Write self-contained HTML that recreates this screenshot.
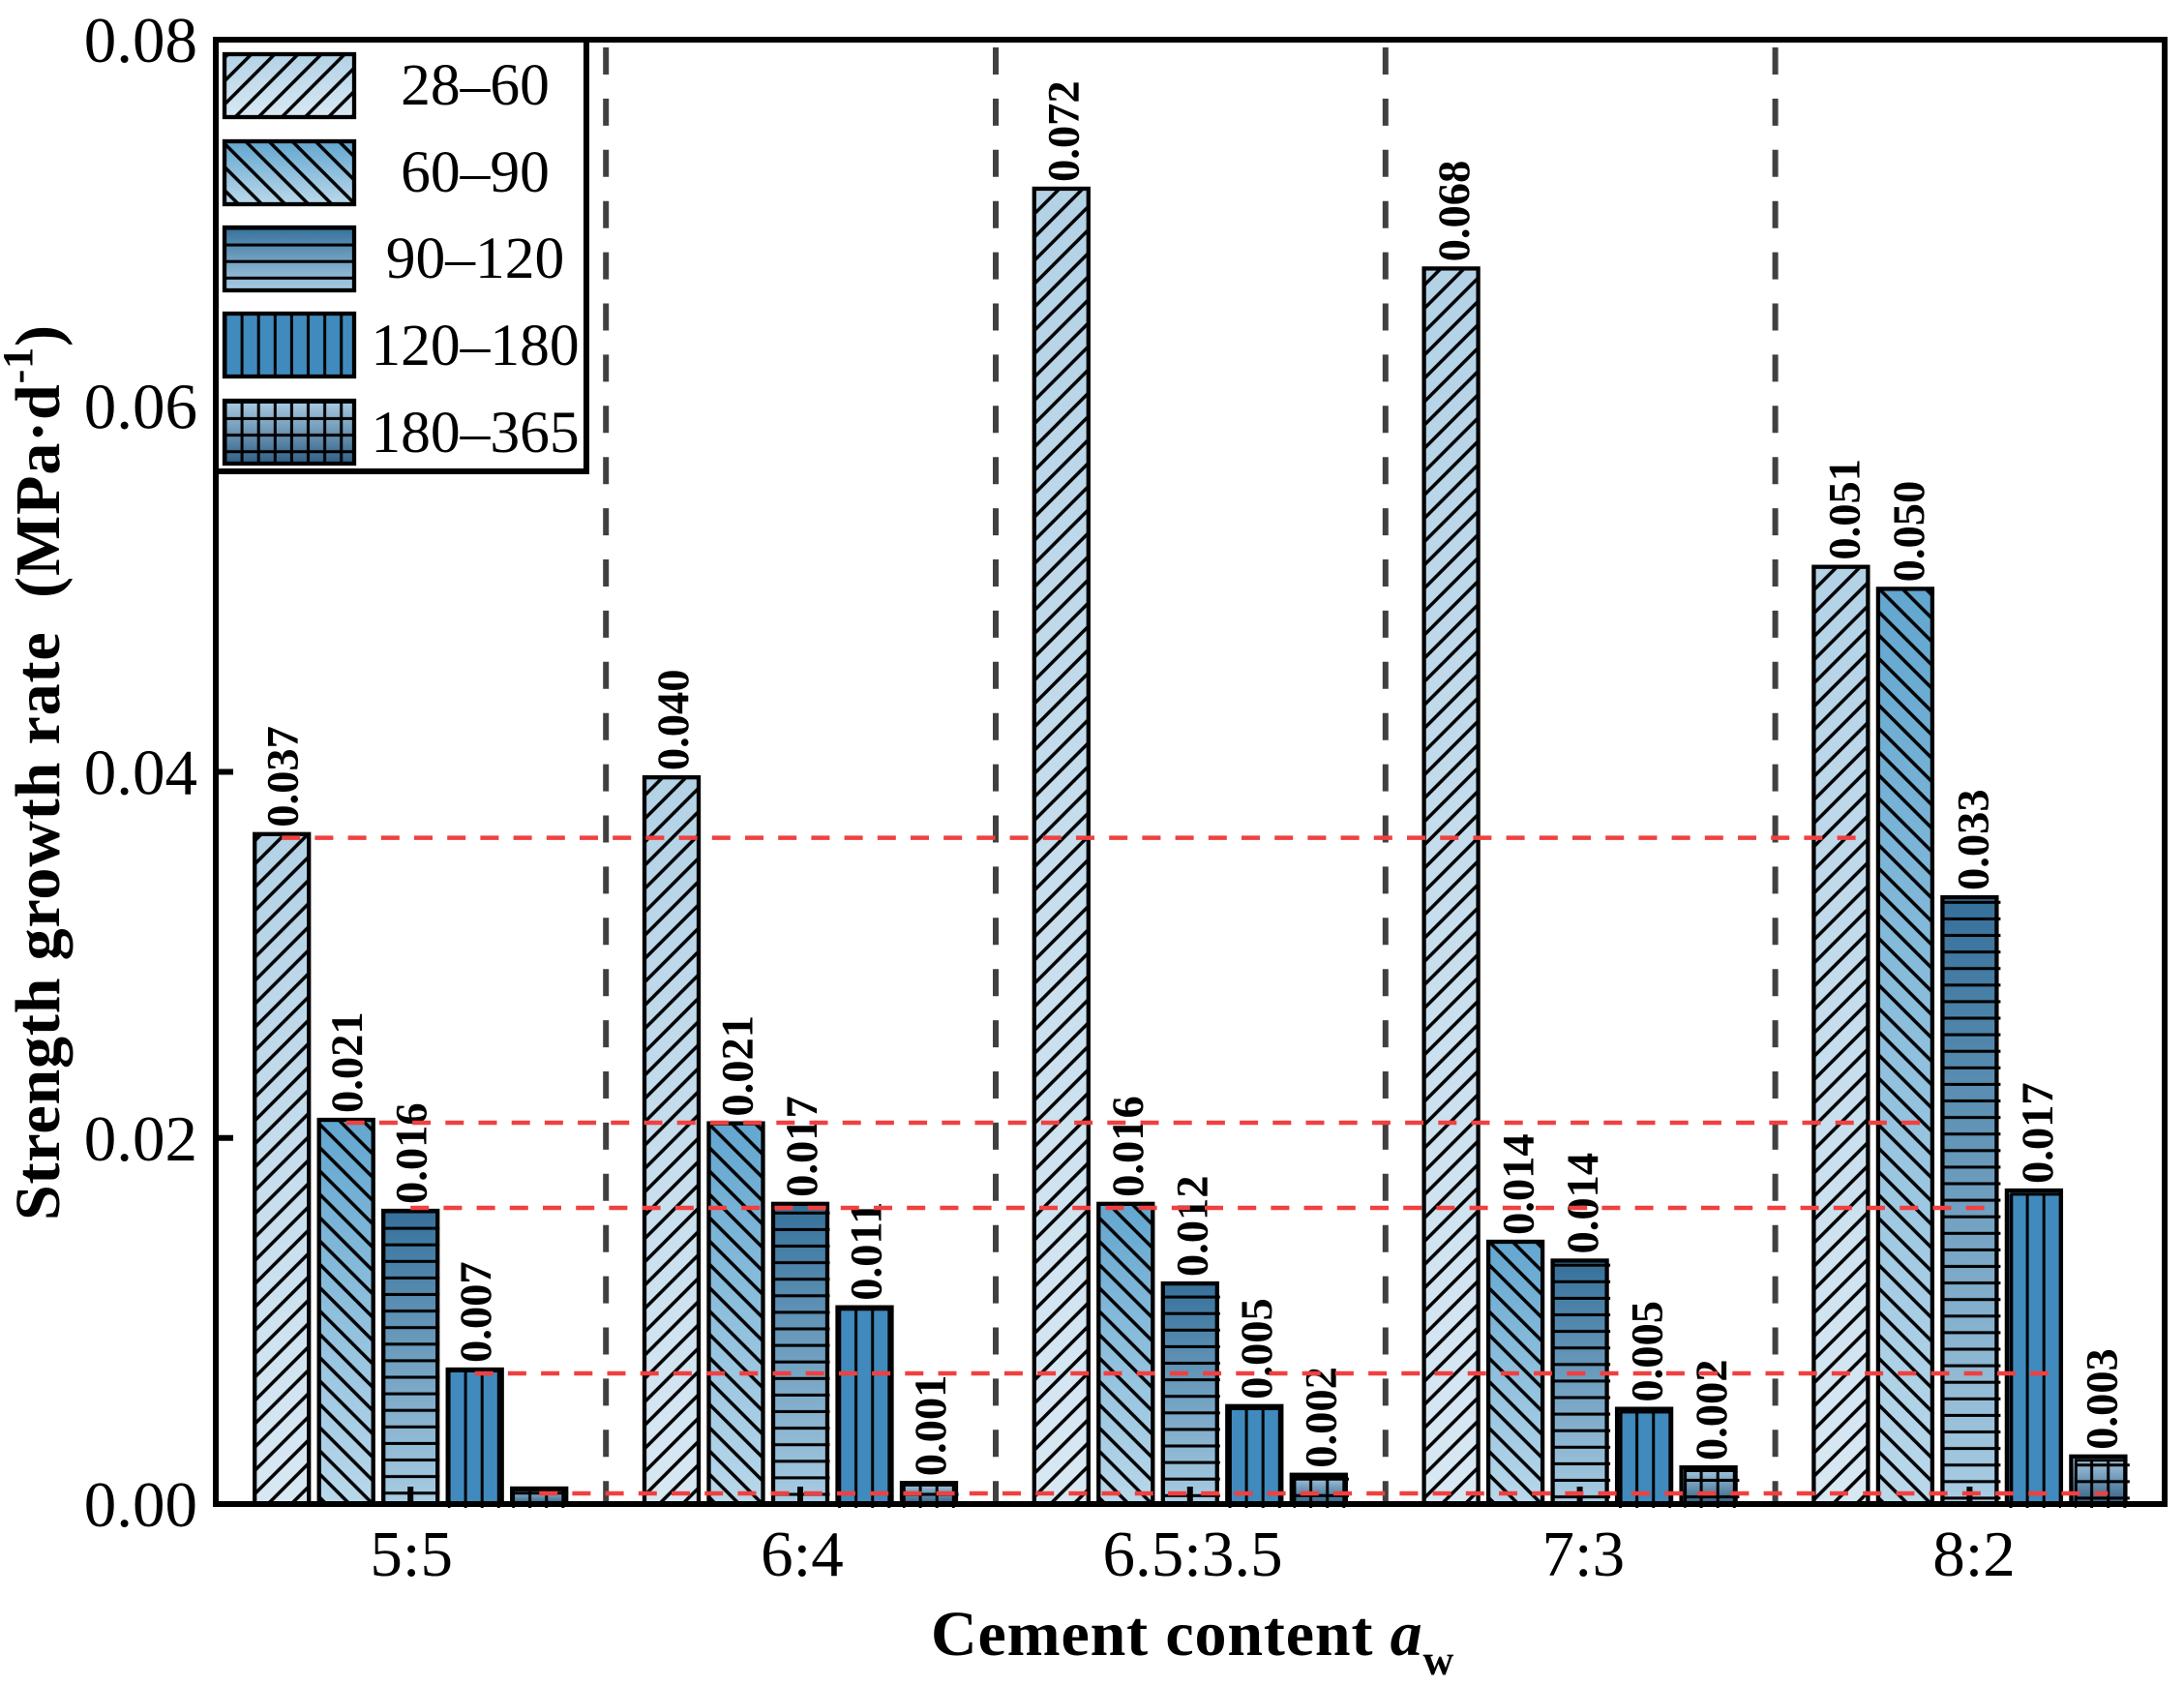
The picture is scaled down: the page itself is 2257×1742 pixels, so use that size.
<!DOCTYPE html>
<html lang="en">
<head>
<meta charset="utf-8">
<title>Strength growth rate chart</title>
<style>
html,body{margin:0;padding:0;background:#fff;}
svg{display:block;font-family:"Liberation Serif",serif;}
</style>
</head>
<body>
<svg id="chart" xmlns="http://www.w3.org/2000/svg" width="2257" height="1742" viewBox="0 0 2257 1742">
  <defs>
    <linearGradient id="grad-0" x1="0" y1="0" x2="0" y2="1"><stop offset="0" stop-color="#b3d2e6"/><stop offset="1" stop-color="#d8e8f3"/></linearGradient>
    <linearGradient id="grad-1" x1="0" y1="0" x2="0" y2="1"><stop offset="0" stop-color="#62a6cf"/><stop offset="1" stop-color="#bad8ea"/></linearGradient>
    <linearGradient id="grad-2" x1="0" y1="0" x2="0" y2="1"><stop offset="0" stop-color="#35709a"/><stop offset="1" stop-color="#a9cde4"/></linearGradient>
    <linearGradient id="grad-3" x1="0" y1="0" x2="0" y2="1"><stop offset="0" stop-color="#408abd"/><stop offset="1" stop-color="#408abd"/></linearGradient>
    <linearGradient id="grad-4" x1="0" y1="0" x2="0" y2="1"><stop offset="0" stop-color="#abcde4"/><stop offset="1" stop-color="#2e5f84"/></linearGradient>
    <pattern id="hatch-0" patternUnits="userSpaceOnUse" width="24.1" height="24.1" patternTransform="translate(15.7,0)">
      <path d="M-6,6 L6,-6 M-6,30.1 L30.1,-6 M18.1,30.1 L30.1,18.1" stroke="#000" stroke-width="3.5" fill="none"/>
    </pattern>
    <pattern id="hatch-1" patternUnits="userSpaceOnUse" width="24.1" height="24.1" patternTransform="translate(9.5,0)">
      <path d="M-6,-6 L30.1,30.1 M18.1,-6 L30.1,6 M-6,18.1 L6,30.1" stroke="#000" stroke-width="3.5" fill="none"/>
    </pattern>
    <pattern id="hatch-2" patternUnits="userSpaceOnUse" width="17.1" height="17.1">
      <path d="M0,5.8 H17.1" stroke="#000" stroke-width="3" fill="none"/>
    </pattern>
    <pattern id="hatch-3" patternUnits="userSpaceOnUse" width="17.1" height="17.1">
      <path d="M3.3,0 V17.1" stroke="#000" stroke-width="3" fill="none"/>
    </pattern>
    <pattern id="hatch-4" patternUnits="userSpaceOnUse" width="17.1" height="17.1">
      <path d="M0,5.8 H17.1 M3.3,0 V17.1" stroke="#000" stroke-width="3" fill="none"/>
    </pattern>
  </defs>
  <rect x="0" y="0" width="2257" height="1742" fill="#fff"/>
  <g id="bars"></g>
  <g id="separators"></g>
  <g id="axes"></g>
  <g id="reference-lines"></g>
  <g id="legend"></g>
  <text x="962" y="1710" font-size="66" font-weight="bold" letter-spacing="0.85">Cement content <tspan font-style="italic">a</tspan><tspan font-size="44" dy="20">w</tspan></text>
  <text transform="translate(61,1261) rotate(-90)" font-size="66" font-weight="bold" letter-spacing="0.85" xml:space="preserve">Strength growth rate  (MPa·d<tspan font-size="44" dy="-28">-1</tspan><tspan dy="28">)</tspan></text>
</svg>
<script>
const categories = ['5:5', '6:4', '6.5:3.5', '7:3', '8:2'];
const seriesNames = ['28–60', '60–90', '90–120', '120–180', '180–365'];
const rate28to60 = [0.0366, 0.0397, 0.07186, 0.0675, 0.0512];
const rate60to90 = [0.02099, 0.0208, 0.0164, 0.01433, 0.0500];
const rate90to120 = [0.01602, 0.0164, 0.01205, 0.0133, 0.03315];
const rate120to180 = [0.00735, 0.01075, 0.00535, 0.0052, 0.01713];
const rate180to365 = [0.00085, 0.00115, 0.0016, 0.002, 0.0026];
const printed28to60 = ['0.037', '0.040', '0.072', '0.068', '0.051'];
const printed60to90 = ['0.021', '0.021', '0.016', '0.014', '0.050'];
const printed90to120 = ['0.016', '0.017', '0.012', '0.014', '0.033'];
const printed120to180 = ['0.007', '0.011', '0.005', '0.005', '0.017'];
const printed180to365 = ['', '0.001', '0.002', '0.002', '0.003'];
const referenceValues = [0.0364, 0.02083, 0.01618, 0.00714, 0.00058];
const yTicks = [0, 0.02, 0.04, 0.06, 0.08];
const yTickLabels = ['0.00', '0.02', '0.04', '0.06', '0.08'];

const allSeries = [rate28to60, rate60to90, rate90to120, rate120to180, rate180to365];
const allPrinted = [printed28to60, printed60to90, printed90to120, printed120to180, printed180to365];

const NS = 'http://www.w3.org/2000/svg';
const plot = {left: 223, right: 2237, top: 41, bottom: 1554};
const yScale = v => plot.bottom - (v / 0.08) * (plot.bottom - plot.top);
const groupCenter = g => 424.2 + g * 402.8;
const barCenter = (g, s) => groupCenter(g) + (s - 2) * 66.5;
const barOuter = 60;

function mk(tag, attrs, parent) {
  const el = document.createElementNS(NS, tag);
  for (const k in attrs) el.setAttribute(k, attrs[k]);
  parent.appendChild(el);
  return el;
}

function hatchGeometry(s, g, left, top) {
  const bottom = plot.bottom;
  if (s === 0) return {tx: left + 1.5 * g, ty: bottom, x1: left + 3, x2: left + 57, y1: top + 2, y2: bottom};
  if (s === 1) return {tx: left - 0.2 * g, ty: bottom, x1: left + 3, x2: left + 57, y1: top + 2, y2: bottom};
  if (s === 2) return {tx: left, ty: bottom + 1.3 * g, x1: left + g, x2: left + 60 + 0.5 * g, y1: top + 2, y2: bottom};
  if (s === 3) return {tx: left + 0.7 * g, ty: bottom, x1: left + 2, x2: left + 58, y1: top + 1.5 + 0.6 * g, y2: bottom + 4};
  return {tx: left + 0.7 * g, ty: bottom + 1.3 * g, x1: left + 2 + 0.9 * g, x2: left + 60 + 0.6 * g, y1: top + 1.5 + 0.6 * g, y2: bottom + 4};
}

const barsG = document.getElementById('bars');
allSeries.forEach((vals, s) => {
  vals.forEach((v, g) => {
    const cx = barCenter(g, s);
    const top = yScale(v);
    const left = cx - barOuter / 2;
    const bar = mk('rect', {x: left + 2, y: top, width: barOuter - 4, height: plot.bottom - top, fill: 'url(#grad-' + s + ')', stroke: '#000', 'stroke-width': 4.3}, barsG);
    
    
    const h = hatchGeometry(s, g, left, top);
    if (h.y2 > h.y1) {
      const hatch = mk('rect', {x: h.x1 - h.tx, y: h.y1 - h.ty, width: h.x2 - h.x1, height: h.y2 - h.y1, fill: 'url(#hatch-' + s + ')', transform: 'translate(' + h.tx + ',' + h.ty + ')'}, barsG);
      
      
    }
    if (s >= 3) {
      const ox = left + 3.3 + 0.9 * g;
      const oy = top + 1.5 + 0.6 * g;
      if (plot.bottom > oy) {
        const outline = mk('rect', {x: ox, y: oy, width: left + 58 - ox, height: plot.bottom - oy, fill: 'none', stroke: '#000', 'stroke-width': 3}, barsG);
        
        
      }
    }
    const labelText = allPrinted[s][g];
    if (labelText) {
      const label = mk('text', {transform: 'translate(' + (cx + 16.5 + 0.6 * g) + ',' + (top - 7) + ') rotate(-90)', 'font-size': 46.5, 'font-weight': 'bold', fill: '#000'}, barsG);
      label.textContent = labelText;
      
      
    }
  });
});

const sepG = document.getElementById('separators');
categories.slice(1).forEach((c, i) => {
  const x = groupCenter(i) + 202;
  const line = mk('line', {x1: x, x2: x, y1: 49, y2: plot.bottom, stroke: '#404040', 'stroke-width': 6, 'stroke-dasharray': '28 24.9'}, sepG);
  
  
});

const axesG = document.getElementById('axes');
const frame = mk('rect', {x: plot.left, y: plot.top, width: plot.right - plot.left, height: plot.bottom - plot.top, fill: 'none', stroke: '#000', 'stroke-width': 6}, axesG);



yTicks.forEach((t, i) => {
  const y = yScale(t);
  const tick = mk('line', {x1: plot.left, x2: plot.left + 18, y1: y, y2: y, stroke: '#000', 'stroke-width': 6}, axesG);
  
  
  const lab = mk('text', {x: 204, y: y + 23, 'text-anchor': 'end', 'font-size': 67}, axesG);
  lab.textContent = yTickLabels[i];
  
  
});

categories.forEach((c, g) => {
  const x = groupCenter(g);
  const tick = mk('line', {x1: x, x2: x, y1: plot.bottom, y2: plot.bottom - 18, stroke: '#000', 'stroke-width': 6}, axesG);
  
  
  const lab = mk('text', {x: x + 1 + 0.9 * g, y: 1628, 'text-anchor': 'middle', 'font-size': 67}, axesG);
  lab.textContent = c;
  
  
});

const refG = document.getElementById('reference-lines');
const refEndPad = [19, 24, 24, 15, 10];
referenceValues.forEach((v, s) => {
  const y = yScale(v);
  const line = mk('line', {x1: barCenter(0, s), x2: barCenter(4, s) + refEndPad[s], y1: y, y2: y, stroke: '#f04040', 'stroke-width': 4.5, 'stroke-dasharray': '19 15.2'}, refG);
  
  
});

const legendG = document.getElementById('legend');
const legBox = mk('rect', {x: plot.left, y: plot.top, width: 383, height: 446, fill: '#fff', stroke: '#000', 'stroke-width': 6}, legendG);


const legendTops = [54, 144, 233, 322, 412];
const legendBase = [108, 198, 287, 377, 467];
const legendHatchDx = [-6.7, 7, 0, -2.3, -2.3];
const legendHatchDy = [0, 0, -3.4, 0, -3];
seriesNames.forEach((n, s) => {
  const t = legendTops[s];
  const sw = mk('rect', {x: 232, y: t + 2, width: 134, height: 65, fill: 'url(#grad-' + s + ')', stroke: '#000', 'stroke-width': 4.3}, legendG);
  
  
  const dx = legendHatchDx[s];
  const dy = legendHatchDy[s];
  const h = mk('rect', {x: -dx, y: -67 - dy, width: 134, height: 67, fill: 'url(#hatch-' + s + ')', transform: 'translate(' + (232 + dx) + ',' + (t + 69 + dy) + ')'}, legendG);
  
  
  const txt = mk('text', {x: 491, y: legendBase[s], 'text-anchor': 'middle', 'font-size': 61.5}, legendG);
  txt.textContent = n;
  
  
});
</script>
</body>
</html>
